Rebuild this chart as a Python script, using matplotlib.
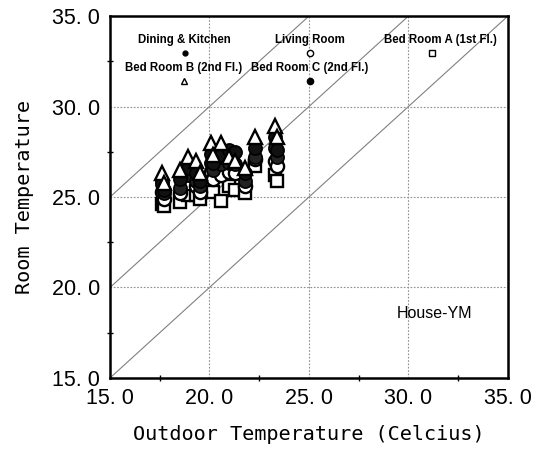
import numpy as np
import matplotlib
matplotlib.use('Agg')
import matplotlib.pyplot as plt

# daily mean outdoor temperature and room temperatures, House-YM
outdoor = [17.6, 17.7, 18.5, 18.9, 19.3, 19.5, 20.1, 20.2, 20.6, 21.0, 21.3, 21.8, 22.3, 23.3, 23.4]
bed_b = [26.3, 25.8, 26.5, 27.2, 27.0, 26.3, 28.0, 27.3, 28.0, 27.2, 27.0, 26.6, 28.3, 28.9, 28.3]
bed_c = [25.7, 25.4, 26.0, 26.6, 26.3, 25.9, 27.4, 26.9, 27.3, 27.6, 27.5, 26.3, 27.7, 28.3, 27.6]
dining = [25.9, 25.2, 25.5, 26.2, 25.9, 25.6, 26.9, 26.5, 26.8, 26.9, 26.8, 25.9, 27.2, 27.7, 27.2]
living = [25.3, 24.9, 25.2, 25.8, 25.6, 25.3, 26.4, 26.0, 26.2, 26.4, 26.3, 25.6, 27.1, 27.0, 26.7]
bed_a = [24.6, 24.5, 24.7, 25.1, 25.1, 24.9, 25.6, 25.3, 24.8, 25.6, 25.4, 25.2, 26.7, 26.2, 25.9]

ticks = [15.0, 20.0, 25.0, 30.0, 35.0]
tick_labels = ['15. 0', '20. 0', '25. 0', '30. 0', '35. 0']
offsets = [0, 5, 10]   # reference lines room = outdoor + offset

mono = dict(family='DejaVu Sans Mono')
sans = ['Liberation Sans', 'DejaVu Sans']

fig = plt.figure(figsize=(5.42, 4.73), dpi=100)
ax = fig.add_axes([0.203, 0.201, 0.734, 0.765])

line_x = np.array([15.0, 35.0])
for off in offsets:
    ax.plot(line_x, line_x + off, color='#808080', lw=0.8, zorder=1)

for t in ticks[1:-1]:
    ax.axvline(t, color='#909090', lw=0.8, ls=(0, (1.5, 1.5)), zorder=1)
    ax.axhline(t, color='#909090', lw=0.8, ls=(0, (1.5, 1.5)), zorder=1)

ms = 9.5
ax.plot(outdoor, bed_a, 's', ms=ms - 1, mfc='white', mec='black', mew=1.7, zorder=3)
ax.plot(outdoor, living, 'o', ms=ms, mfc='white', mec='black', mew=1.7, zorder=3)
ax.plot(outdoor, dining, 'o', ms=ms, mfc='#222222', mec='black', mew=1.2, zorder=4)
ax.plot(outdoor, bed_c, 'o', ms=ms, mfc='#111111', mec='black', mew=1.2, zorder=4)
ax.plot(outdoor, bed_b, '^', ms=ms + 1, mfc='white', mec='black', mew=1.7, zorder=5)

# key: name above its marker
keys = [
    ('Dining & Kitchen', 0.188, 0.935, 'o', 3.5, 'black'),
    ('Living Room', 0.503, 0.935, 'o', 4.5, 'white'),
    ('Bed Room A (1st Fl.)', 0.83, 0.935, 's', 4.0, 'white'),
    ('Bed Room B (2nd Fl.)', 0.185, 0.857, '^', 5.0, 'white'),
    ('Bed Room C (2nd Fl.)', 0.503, 0.857, 'o', 4.5, 'black'),
]
for name, kx, ky, mk, ksize, kface in keys:
    ax.text(kx, ky, name, transform=ax.transAxes, ha='center', va='center',
            fontsize=8.3, family=sans, weight='bold', zorder=6)
    dx = -0.02 if name.startswith('Bed Room A') else 0
    ax.plot([kx + dx], [ky - 0.036], mk, ms=ksize, mfc=kface, mec='black',
            mew=1.0, transform=ax.transAxes, zorder=6)

ax.text(0.72, 0.165, 'House-YM', transform=ax.transAxes, fontsize=11.5,
        family=sans)

ax.set_xlim(15, 35)
ax.set_ylim(15, 35)
ax.set_xticks(ticks)
ax.set_yticks(ticks)
ax.set_xticklabels(tick_labels, fontsize=15.5, family=sans)
ax.set_yticklabels(tick_labels, fontsize=15.5, family=sans)
ax.set_xticks([17.5, 22.5, 27.5, 32.5], minor=True)
ax.set_yticks([17.5, 22.5, 27.5, 32.5], minor=True)
ax.tick_params(which='major', length=0, pad=7)
ax.tick_params(which='minor', length=4, direction='inout', width=1.0)

for sp in ax.spines.values():
    sp.set_linewidth(1.8)

ax.set_xlabel('Outdoor Temperature (Celcius)', fontsize=14.5, labelpad=12, **mono)
ax.set_ylabel('Room Temperature', fontsize=14.5, labelpad=13, **mono)

fig.savefig('out.png', dpi=100)
